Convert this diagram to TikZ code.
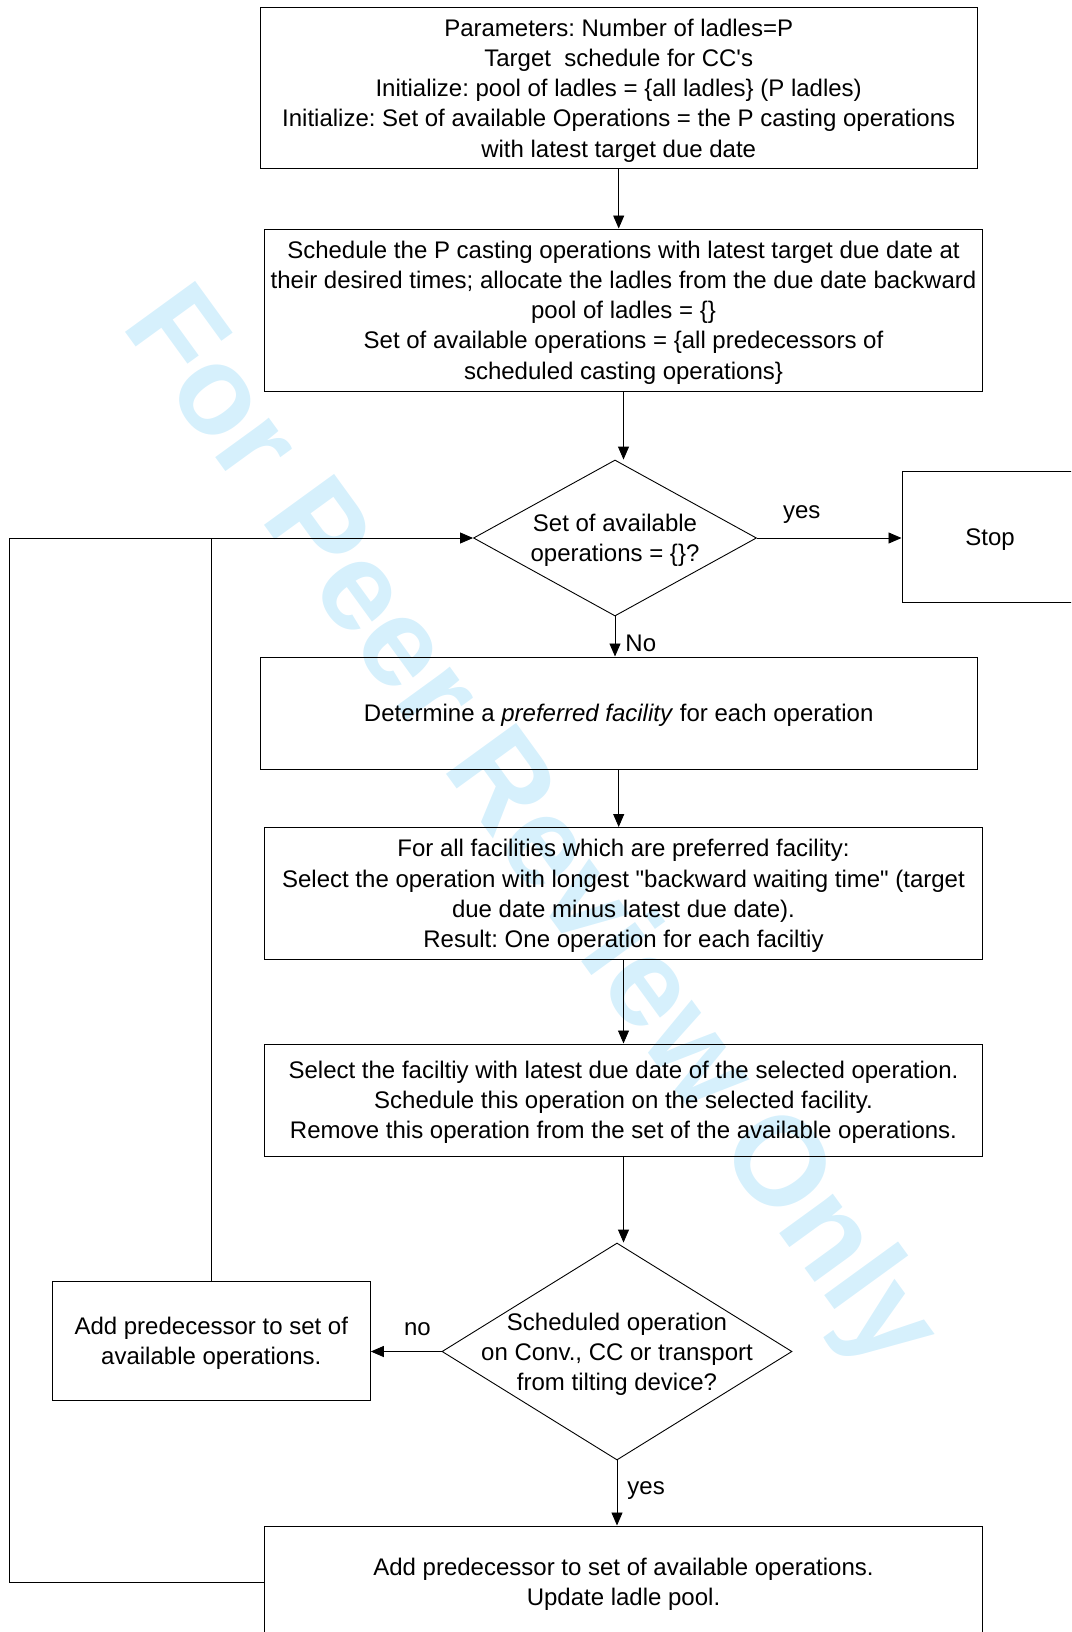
\documentclass[tikz,border=0pt]{standalone}
\usepackage{fontspec}
\setmainfont{Liberation Sans}
\usetikzlibrary{shapes.geometric,arrows.meta}
\definecolor{wmark}{RGB}{214,240,252}
\begin{document}
\frenchspacing
\begin{tikzpicture}[x=1pt,y=-1pt,font=\fontsize{24}{30.2}\selectfont,
  box/.style={draw,line width=1pt,inner sep=0pt,text depth=-1.5pt,align=center},
  decide/.style={draw,diamond,aspect=1.6,line width=0.9pt,inner sep=-25pt,text depth=-2pt,align=center},
  arr/.style={-{Triangle[length=13pt,width=11pt]},line width=0.9pt},
  lbl/.style={inner sep=0pt}]
\useasboundingbox (0,0) rectangle (1071,1632);
\clip (0,0) rectangle (1071,1632);
\node[rotate=-54,anchor=base west,text=wmark,font=\fontsize{126}{126}\bfseries\selectfont] (wm) at (118,323) {For Peer Review Only};
\node[box,minimum width=717pt,minimum height=161pt] (params) at (618.7,88) {Parameters: Number of ladles=P\\Target\ \ schedule for CC\textquotesingle s\\Initialize: pool of ladles = \{all ladles\} (P ladles)\\Initialize: Set of available Operations = the P casting operations\\with latest target due date};
\node[box,minimum width=718pt,minimum height=162pt] (init) at (623.5,310) {Schedule the P casting operations with latest target due date at\\their desired times; allocate the ladles from the due date backward\\pool of ladles = \{\}\\Set of available operations = \{all predecessors of\\scheduled casting operations\}};
\node[decide,minimum width=283pt,minimum height=156pt] (empty) at (615,538) {Set of available\\operations = \{\}?};
\node[box,minimum width=176pt,minimum height=131pt] (stop) at (990,537) {Stop};
\node[box,minimum width=717pt,minimum height=112pt] (pref) at (618.7,713) {Determine a \textit{preferred facility} for each operation};
\node[box,minimum width=718pt,minimum height=132pt] (select) at (623.5,893.5) {For all facilities which are preferred facility:\\Select the operation with longest \textquotedbl backward waiting time\textquotedbl\ (target\\due date minus latest due date).\\Result: One operation for each faciltiy};
\node[box,minimum width=718pt,minimum height=112pt] (sched) at (623.5,1100) {Select the faciltiy with latest due date of the selected operation.\\Schedule this operation on the selected facility.\\Remove this operation from the set of the available operations.};
\node[decide,minimum width=350pt,minimum height=217pt] (which) at (617,1351.5) {Scheduled operation\\on Conv., CC or transport\\from tilting device?};
\node[box,minimum width=318pt,minimum height=119pt,text depth=-2pt] (addone) at (211.3,1340.6) {Add predecessor to set of\\available operations.};
\node[box,minimum width=718pt,minimum height=112pt] (addall) at (623.5,1582) {Add predecessor to set of available operations.\\Update ladle pool.};
\draw[arr] (params.south) -- (params.south |- init.north);
\draw[arr] (init.south) -- (init.south |- empty.north);
\draw[arr] (empty.east) -- (empty.east -| stop.west) node[lbl,pos=0.31,above=14pt] (yesstop) {yes};
\draw[arr] (empty.south) -- (empty.south |- pref.north) node[lbl,pos=0.66,right=10pt] (nopref) {No};
\draw[arr] (pref.south) -- (pref.south |- select.north);
\draw[arr] (select.south) -- (select.south |- sched.north);
\draw[arr] (sched.south) -- (sched.south |- which.north);
\draw[arr] (which.west) -- (which.west -| addone.east) node[lbl,pos=0.34,above=15pt] (noadd) {no};
\draw[arr] (which.south) -- (which.south |- addall.north) node[lbl,pos=0.46,right=10pt] (yesadd) {yes};
\draw[arr] (addall.west) -- ++(-255,0) |- (empty.west);
\draw[line width=0.9pt] (addone.north) -- (addone.north |- empty.west);
\end{tikzpicture}
\end{document}
